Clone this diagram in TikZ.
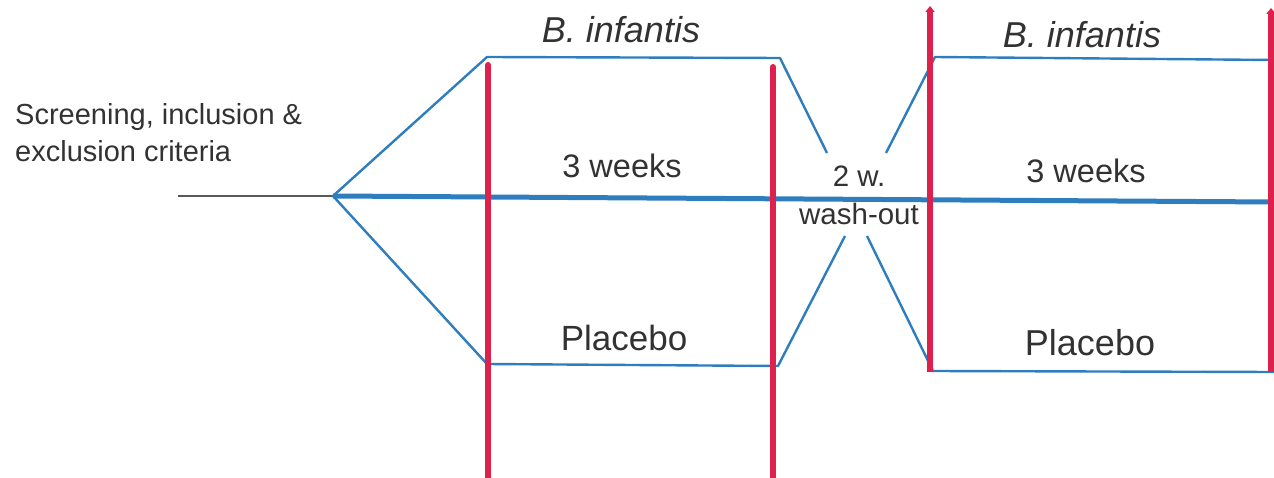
\documentclass[tikz,border=0pt]{standalone}
\usepackage{fontspec}
\setmainfont{Liberation Sans}
\usetikzlibrary{arrows.meta}
\definecolor{armblue}{RGB}{46,125,190}
\definecolor{visitred}{RGB}{222,32,76}
\definecolor{txtgray}{RGB}{50,50,50}
\tikzset{
  arm line/.style={
    draw=armblue, line width=2.4pt, line join=round
  },
  main line/.style={
    draw=armblue, line width=5pt
  },
  lead line/.style={
    draw=black!65, line width=1.6pt
  },
  visit line/.style={
    draw=visitred, line width=6pt, line cap=round
  },
  visit arrow/.style={
    visit line, line cap=butt, -{Triangle[length=6pt,width=9pt]}
  },
  period label/.style={
    text=txtgray, inner sep=0pt, anchor=base,
    font=\fontsize{32.5}{36}\selectfont
  },
  arm label/.style={
    period label, font=\fontsize{35}{40}\selectfont
  },
  note label/.style={
    text=txtgray, inner sep=0pt, font=\fontsize{29}{37}\selectfont
  }
}

\begin{document}
\begin{tikzpicture}[x=1pt, y=-1pt]
  \useasboundingbox (0,0) rectangle (1274,478);

  % corners of the two treatment arms
  \coordinate (start) at (178,196);
  \coordinate (split) at (333,196);
  \coordinate (top1a) at (487,57);
  \coordinate (top1b) at (780,58);
  \coordinate (low1a) at (487,364);
  \coordinate (low1b) at (778,366);
  \coordinate (top2a) at (935,57);
  \coordinate (top2b) at (1274,60);
  \coordinate (low2a) at (933,371);
  \coordinate (low2b) at (1274,372);
  \coordinate (midend) at (1274,202);
  % ends of the lines at the wash-out gap
  \coordinate (gapul) at (827,153);
  \coordinate (gapur) at (886,153);
  \coordinate (gapll) at (845,236);
  \coordinate (gaplr) at (867,236);

  % base of a two-line node sits on its last line
  \node (screen) [note label, anchor=base west, align=left] at (15,162)
    {Screening, inclusion \&\\exclusion criteria};
  \node (inf1) [period label, font=\fontsize{36}{40}\selectfont\itshape] at (621,43) {B. infantis};
  \node (wk1) [period label] at (622,178) {3 weeks};
  \node (plc1) [arm label] at (624,350) {Placebo};
  \node (inf2) [period label, font=\fontsize{36}{40}\selectfont\itshape] at (1082,48) {B. infantis};
  \node (wk2) [period label] at (1086,183) {3 weeks};
  \node (plc2) [arm label, font=\fontsize{36}{40}\selectfont] at (1090,355) {Placebo};
  \node (wash) [note label, anchor=base, align=center, font=\fontsize{29.5}{38}\selectfont] at (859,225)
    {2 w.\\wash-out};

  \draw [lead line] (start) -- (split);
  \draw [main line] (split) -- (midend);
  \draw [arm line] (split) -- (top1a) -- (top1b) -- (gapul);
  \draw [arm line] (split) -- (low1a) -- (low1b) -- (gapll);
  \draw [arm line] (gapur) -- (top2a) -- (top2b);
  \draw [arm line] (gaplr) -- (low2a) -- (low2b);

  % visits
  \draw [visit line] (488,65) -- (488,478);
  \draw [visit line] (773,67) -- (773,478);
  \draw [visit arrow] (930,372) -- (930,6);
  \draw [visit arrow] (1271,372) -- (1271,8);
\end{tikzpicture}
\end{document}
